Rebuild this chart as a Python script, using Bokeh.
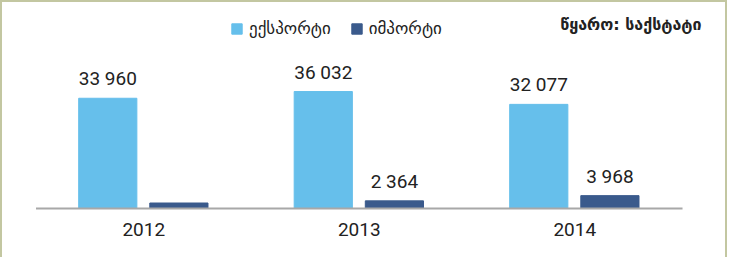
import numpy as np
from bokeh.plotting import figure
from bokeh.models import ColumnDataSource, Range1d, Legend, LegendItem, Label
from bokeh.core.properties import value
from bokeh.embed import file_html
from bokeh.resources import INLINE

years = ["2012", "2013", "2014"]
export_vals = [33960, 36032, 32077]
import_vals = [1700, 2364, 3968]
export_labels = ["33 960", "36 032", "32 077"]
import_labels = ["", "2 364", "3 968"]
series_names = ["ექსპორტი", "იმპორტი"]
source_text = "წყარო: საქსტატი"

EXP_COLOR = "#66bfeb"
IMP_COLOR = "#3a5a8c"
TEXT_COLOR = "#222222"
FRAME_COLOR = "#c3c7a1"

W, H = 727, 257
idx = np.arange(len(years)) + 0.5
EXP_OFF, IMP_OFF, BAR_W = -0.167, 0.163, 0.27

src = ColumnDataSource(dict(
    x=idx, xe=idx + EXP_OFF, xi=idx + IMP_OFF, zero=[0] * len(years),
    year=years, exp=export_vals, imp=import_vals,
    exp_lab=export_labels, imp_lab=import_labels))
base = ColumnDataSource(dict(x0=[0], x1=[len(years)], y=[0]))

p = figure(x_range=Range1d(-0.1555, 3.218), y_range=Range1d(-15700, 63450),
           width=W, height=H, output_backend="svg", toolbar_location=None,
           min_border=0, x_axis_location=None, y_axis_location=None)
p.outline_line_color = None
p.grid.visible = False
p.background_fill_color = "white"
p.border_fill_color = "white"
p.styles = {"border-top": f"2px solid {FRAME_COLOR}",
            "border-left": f"2px solid {FRAME_COLOR}",
            "border-right": f"2px solid {FRAME_COLOR}"}

r_exp = p.vbar(x="xe", top="exp", width=BAR_W, source=src, color=EXP_COLOR)
r_imp = p.vbar(x="xi", top="imp", width=BAR_W, source=src, color=IMP_COLOR)

p.segment(x0="x0", x1="x1", y0="y", y1="y", source=base,
          line_color="#a8a8a8", line_width=2)

p.text(x="xe", y="exp", text="exp_lab", source=src,
       text_align="center", text_baseline="bottom", y_offset=-8,
       text_font=value("Roboto"), text_font_size="19px", text_color=TEXT_COLOR)
p.text(x="xi", y="imp", text="imp_lab", source=src,
       text_align="center", text_baseline="bottom", y_offset=-8,
       text_font=value("Roboto"), text_font_size="19px", text_color=TEXT_COLOR)
p.text(x="x", y="zero", text="year", source=src,
       text_align="center", text_baseline="middle", y_offset=21,
       text_font=value("Roboto"), text_font_size="19px", text_color=TEXT_COLOR)

legend = Legend(items=[LegendItem(label=series_names[0], renderers=[r_exp]),
                       LegendItem(label=series_names[1], renderers=[r_imp])],
                orientation="horizontal", location=(228, 221),
                glyph_width=13, glyph_height=13, label_standoff=6, spacing=19,
                padding=0, margin=0, border_line_color=None, background_fill_alpha=0,
                label_text_font="DejaVu Sans", label_text_font_size="17px",
                label_text_color=TEXT_COLOR, label_height=16)
p.add_layout(legend, "center")

p.add_layout(Label(x=699, y=H - 12, x_units="screen", y_units="screen", text=source_text,
                   text_align="right", text_baseline="top", text_font="DejaVu Sans",
                   text_font_size="16px", text_font_style="bold", text_color=TEXT_COLOR))

open("out.html", "w").write(file_html(p, INLINE))
